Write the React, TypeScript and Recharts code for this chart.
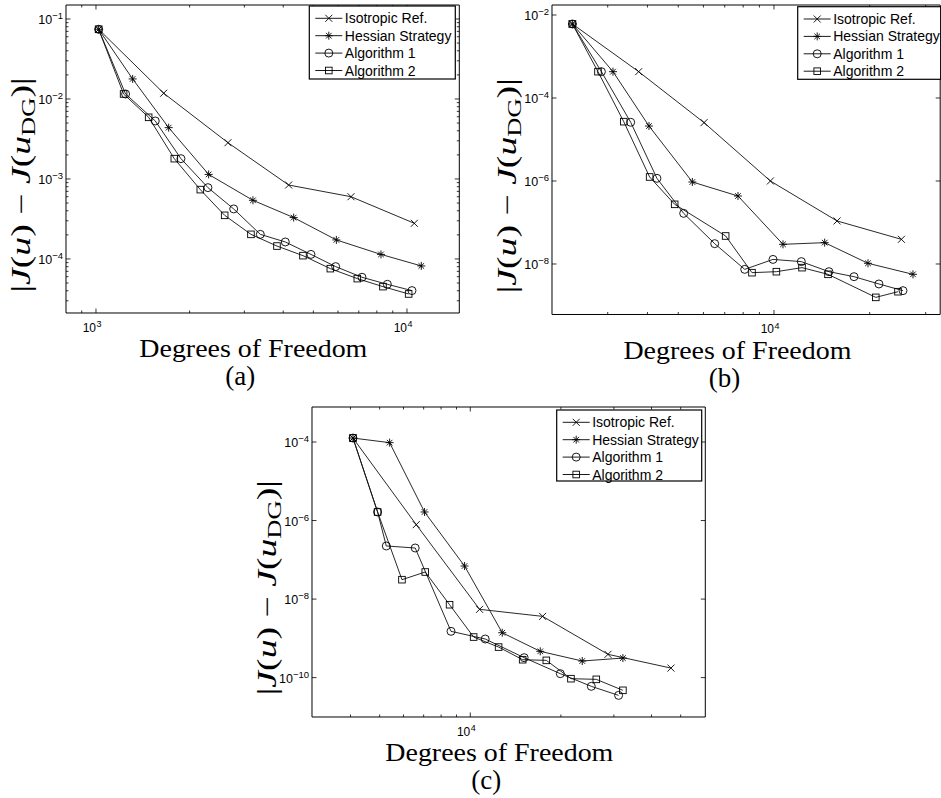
import { LineChart, Line, XAxis, YAxis, ReferenceArea } from 'recharts'

const SANS = '"Liberation Sans", Arial, sans-serif'
const SERIF = '"Liberation Serif", "Times New Roman", serif'

// ---- panel (a): degrees of freedom / |J(u) - J(u_DG)|
const aIsoDof = [1020, 1651, 2657, 4164, 6607, 10558]
const aIsoErr = [7.43e-2, 1.18e-2, 2.84e-3, 8.4e-4, 6.0e-4, 2.79e-4]
const aHessDof = [1020, 1312, 1713, 2303, 3197, 4322, 5928, 8249, 11118]
const aHessErr = [7.43e-2, 1.78e-2, 4.38e-3, 1.14e-3, 5.41e-4, 3.29e-4, 1.73e-4, 1.14e-4, 8.18e-5]
const aAlg1Dof = [1020, 1245, 1551, 1876, 2291, 2772, 3376, 4062, 4912, 5898, 7166, 8647, 10377]
const aAlg1Err = [7.43e-2, 1.155e-2, 5.31e-3, 1.795e-3, 7.79e-4, 4.22e-4, 2.03e-4, 1.63e-4, 1.14e-4, 8.02e-5, 5.9e-5, 4.82e-5, 4.02e-5]
const aAlg2Dof = [1020, 1227, 1477, 1786, 2165, 2593, 3150, 3819, 4630, 5670, 6923, 8371, 10124]
const aAlg2Err = [7.43e-2, 1.155e-2, 5.9e-3, 1.795e-3, 7.36e-4, 3.51e-4, 2.03e-4, 1.45e-4, 1.1e-4, 7.57e-5, 5.68e-5, 4.51e-5, 3.65e-5]

// ---- panel (b)
const bIsoDof = [2323, 3754, 6026, 9743, 15790, 25160]
const bIsoErr = [6.07e-3, 4.31e-4, 2.55e-5, 1.0e-6, 1.09e-7, 3.93e-8]
const bHessDof = [2323, 3117, 4045, 5538, 7705, 10675, 14434, 19751, 27360]
const bHessErr = [6.07e-3, 4.31e-4, 2.11e-5, 9.46e-7, 4.35e-7, 2.98e-8, 3.27e-8, 1.04e-8, 5.64e-9]
const bAlg1Dof = [2323, 2866, 3543, 4285, 5200, 6510, 8091, 9929, 12190, 14890, 17850, 21380, 25450]
const bAlg1Err = [6.07e-3, 4.31e-4, 2.6e-5, 1.16e-6, 1.66e-7, 3.09e-8, 7.43e-9, 1.29e-8, 1.14e-8, 6.53e-9, 4.95e-9, 3.3e-9, 2.28e-9]
const bAlg2Dof = [2323, 2796, 3369, 4064, 4872, 7047, 8528, 10175, 12250, 14790, 20900, 24550]
const bAlg2Err = [6.07e-3, 4.31e-4, 2.69e-5, 1.25e-6, 2.74e-7, 4.73e-8, 6.18e-9, 6.53e-9, 8.17e-9, 5.64e-9, 1.57e-9, 2.15e-9]

// ---- panel (c)
const cIsoDof = [4077, 6615, 10740, 17390, 28670, 46420]
const cIsoErr = [1.26e-4, 7.85e-7, 5.48e-9, 3.63e-9, 3.92e-10, 1.75e-10]
const cHessDof = [4077, 5396, 7048, 9572, 12770, 17080, 23550, 32140]
const cHessErr = [1.26e-4, 9.62e-5, 1.65e-6, 6.95e-8, 1.39e-9, 4.67e-10, 2.65e-10, 3.15e-10]
const cAlg1Dof = [4077, 4922, 5260, 6562, 8630, 11210, 15100, 19910, 25240, 31100]
const cAlg1Err = [1.26e-4, 1.65e-6, 2.25e-7, 2.0e-7, 1.51e-9, 9.62e-10, 3.22e-10, 1.26e-10, 6.0e-11, 3.53e-11]
const cAlg2Dof = [4077, 4922, 5930, 7087, 8536, 10260, 12420, 14930, 17890, 21600, 26220, 32140]
const cAlg2Err = [1.26e-4, 1.65e-6, 3.12e-8, 4.89e-8, 7.19e-9, 1.08e-9, 6.0e-10, 2.86e-10, 2.75e-10, 9.4e-11, 9.04e-11, 4.75e-11]

const NAMES = ['Isotropic Ref.', 'Hessian Strategy', 'Algorithm 1', 'Algorithm 2']
const KINDS = ['x', 'star', 'circle', 'square']

// axis ticks
const MANT = [1, 2, 3, 4, 5, 6, 7, 8, 9]
const aXTicks = [900, 1000, 2000, 3000, 4000, 5000, 6000, 7000, 8000, 9000, 10000]
const bXTicks = [3000, 4000, 5000, 6000, 7000, 8000, 9000, 10000, 20000, 30000]
const cXTicks = [4000, 5000, 6000, 7000, 8000, 9000, 10000, 20000, 30000, 40000, 50000]
const aYTicks = [-5, -4, -3, -2, -1].flatMap(e => MANT.map(m => m * 10 ** e)).filter(v => v > 2.11e-5 && v < 0.1496)
const bYTicks = [1e-8, 1e-6, 1e-4, 1e-2]
const cYTicks = [1e-10, 1e-8, 1e-6, 1e-4]

type Pt = { x: number; y: number }
const zip = (xs: number[], ys: number[]): Pt[] => xs.map((x, i) => ({ x, y: ys[i] }))

type Rect = { left: number; top: number; right: number; bottom: number }

function Marker({ kind, cx, cy }: { kind: string; cx: number; cy: number }) {
  const st = { stroke: '#000', strokeWidth: 0.9, fill: 'none' }
  if (kind === 'x') {
    const d = 3.5
    return (
      <g {...st}>
        <line x1={cx - d} y1={cy - d} x2={cx + d} y2={cy + d} />
        <line x1={cx - d} y1={cy + d} x2={cx + d} y2={cy - d} />
      </g>
    )
  }
  if (kind === 'star') {
    const d = 4, e = 2.8
    return (
      <g {...st}>
        <line x1={cx - d} y1={cy} x2={cx + d} y2={cy} />
        <line x1={cx} y1={cy - d} x2={cx} y2={cy + d} />
        <line x1={cx - e} y1={cy - e} x2={cx + e} y2={cy + e} />
        <line x1={cx - e} y1={cy + e} x2={cx + e} y2={cy - e} />
      </g>
    )
  }
  if (kind === 'circle') return <circle cx={cx} cy={cy} r={4} {...st} />
  return <rect x={cx - 3.3} y={cy - 3.3} width={6.6} height={6.6} {...st} />
}

const isMajor = (v: number) => Math.abs(Math.log10(v) - Math.round(Math.log10(v))) < 1e-6

const makeXTick = (h: number) => (p: any) => {
  const { x, y, payload } = p
  const v = payload.value
  const major = isMajor(v)
  const len = major ? 4.5 : 2.5
  return (
    <g key={`xt-${v}`}>
      <line x1={x} x2={x} y1={y} y2={y - len} stroke="#000" strokeWidth={0.8} />
      <line x1={x} x2={x} y1={y - h} y2={y - h + len} stroke="#000" strokeWidth={0.8} />
      {major && (
        <g fontFamily={SANS} fill="#000">
          <text x={x} y={y + 19} textAnchor="end" fontSize={12}>10</text>
          <text x={x + 0.5} y={y + 14.5} fontSize={9}>{Math.round(Math.log10(v))}</text>
        </g>
      )}
    </g>
  )
}

const makeYTick = (w: number) => (p: any) => {
  const { x, y, payload } = p
  const v = payload.value
  const major = isMajor(v)
  const len = major ? 4.5 : 2.5
  const e = Math.round(Math.log10(v))
  return (
    <g key={`yt-${v}`}>
      <line x1={x} x2={x + len} y1={y} y2={y} stroke="#000" strokeWidth={0.8} />
      <line x1={x + w} x2={x + w - len} y1={y} y2={y} stroke="#000" strokeWidth={0.8} />
      {major && (
        <text x={x - 3} y={y + 5} textAnchor="end" fontFamily={SANS} fill="#000">
          <tspan fontSize={12.5}>10</tspan>
          <tspan fontSize={9.5} dy={-5}>{e < 0 ? '\u2212' + -e : String(e)}</tspan>
        </text>
      )}
    </g>
  )
}

const renderDot = (kind: string) => (p: any) => (
  <Marker key={`${kind}-${p.index}`} kind={kind} cx={p.cx} cy={p.cy} />
)

type PanelProps = {
  rect: Rect
  xDomain: [number, number]
  yDomain: [number, number]
  xTicks: number[]
  yTicks: number[]
  series: Pt[][]
}

function Panel({ rect, xDomain, yDomain, xTicks, yTicks, series }: PanelProps) {
  const W = rect.right - rect.left
  const H = rect.bottom - rect.top
  const YW = 65
  const TOP = 5
  return (
    <div style={{ position: 'absolute', left: rect.left - YW, top: rect.top - TOP }}>
      <LineChart width={YW + W + 1} height={TOP + H + 30} margin={{ top: TOP, right: 1, bottom: 0, left: 0 }}>
        <XAxis
          dataKey="x" type="number" scale="log" domain={xDomain} allowDataOverflow
          ticks={xTicks} interval={0} tickLine={false} axisLine={false}
          tickSize={0} tickMargin={0} height={30} tick={makeXTick(H)}
        />
        <YAxis
          dataKey="y" type="number" scale="log" domain={yDomain} allowDataOverflow
          ticks={yTicks} interval={0} tickLine={false} axisLine={false}
          tickSize={0} tickMargin={0} width={YW} tick={makeYTick(W)}
        />
        <ReferenceArea
          x1={xDomain[0]} x2={xDomain[1]} y1={yDomain[0]} y2={yDomain[1]}
          fill="none" fillOpacity={0} stroke="#000" strokeWidth={1} ifOverflow="visible"
        />
        {series.map((data, i) => (
          <Line
            key={NAMES[i]} data={data} dataKey="y" type="linear"
            stroke="#111" strokeWidth={0.9} dot={renderDot(KINDS[i])}
            activeDot={false} isAnimationActive={false}
          />
        ))}
      </LineChart>
    </div>
  )
}

function LegendBox({ left, top, width, height }: { left: number; top: number; width: number; height: number }) {
  return (
    <g>
      <rect x={left} y={top} width={width} height={height} fill="#fff" stroke="#000" strokeWidth={1.2} />
      {NAMES.map((n, i) => {
        const cy = top + 12.3 + 17.4 * i
        return (
          <g key={n}>
            <line x1={left + 6} x2={left + 33} y1={cy} y2={cy} stroke="#000" strokeWidth={0.9} />
            <Marker kind={KINDS[i]} cx={left + 19.5} cy={cy} />
            <text x={left + 35.5} y={cy + 5} fontFamily={SANS} fontSize={14} fill="#000">{n}</text>
          </g>
        )
      })}
    </g>
  )
}

function Titles({ rect, caption }: { rect: Rect; caption: string }) {
  const mid = (rect.left + rect.right) / 2
  const cy = (rect.top + rect.bottom) / 2 + 26
  const lx = rect.left - 36
  return (
    <g fill="#000" fontFamily={SERIF}>
      <text
        transform={`rotate(-90 ${lx} ${cy})`} x={lx} y={cy} textAnchor="middle"
        fontSize={27} textLength={215} lengthAdjust="spacingAndGlyphs"
      >
        |<tspan fontStyle="italic">J</tspan>(<tspan fontStyle="italic">u</tspan>) {'\u2212'} <tspan fontStyle="italic">J</tspan>(<tspan fontStyle="italic">u</tspan><tspan fontSize={19} dy={5}>DG</tspan><tspan dy={-5}>)|</tspan>
      </text>
      <text x={mid - 9} y={rect.bottom + 44} textAnchor="middle" fontSize={25} textLength={228} lengthAdjust="spacingAndGlyphs">
        Degrees of Freedom
      </text>
      <text x={mid - 22} y={rect.bottom + 72} textAnchor="middle" fontSize={27}>{caption}</text>
    </g>
  )
}

const rectA: Rect = { left: 65.7, top: 5, right: 459, bottom: 313 }
const rectB: Rect = { left: 552.3, top: 5, right: 940.5, bottom: 314.5 }
const rectC: Rect = { left: 311.7, top: 406.7, right: 705, bottom: 716.7 }

export default function App() {
  return (
    <div style={{ position: 'absolute', left: 0, top: 0, width: 941, height: 798, overflow: 'hidden', background: '#fff' }}>
      <Panel
        rect={rectA} xDomain={[801, 14730]} yDomain={[2.11e-5, 0.1496]} xTicks={aXTicks} yTicks={aYTicks}
        series={[zip(aIsoDof, aIsoErr), zip(aHessDof, aHessErr), zip(aAlg1Dof, aAlg1Err), zip(aAlg2Dof, aAlg2Err)]}
      />
      <Panel
        rect={rectB} xDomain={[2004, 33320]} yDomain={[6.07e-10, 0.0174]} xTicks={bXTicks} yTicks={bYTicks}
        series={[zip(bIsoDof, bIsoErr), zip(bHessDof, bHessErr), zip(bAlg1Dof, bAlg1Err), zip(bAlg2Dof, bAlg2Err)]}
      />
      <Panel
        rect={rectC} xDomain={[2980, 60360]} yDomain={[9.94e-12, 7.78e-4]} xTicks={cXTicks} yTicks={cYTicks}
        series={[zip(cIsoDof, cIsoErr), zip(cHessDof, cHessErr), zip(cAlg1Dof, cAlg1Err), zip(cAlg2Dof, cAlg2Err)]}
      />
      <svg width={941} height={798} style={{ position: 'absolute', left: 0, top: 0, pointerEvents: 'none' }}>
        <Titles rect={rectA} caption="(a)" />
        <Titles rect={rectB} caption="(b)" />
        <Titles rect={rectC} caption="(c)" />
        <LegendBox left={309.3} top={6} width={146} height={73} />
        <LegendBox left={797.7} top={6.7} width={143} height={72.6} />
        <LegendBox left={556.7} top={410} width={145} height={71} />
      </svg>
    </div>
  )
}
